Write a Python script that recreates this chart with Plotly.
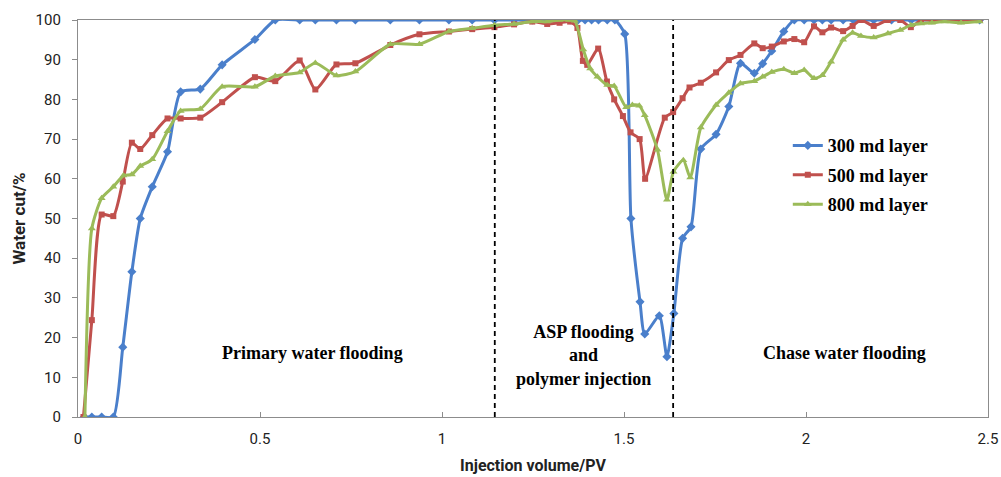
import plotly.graph_objects as go

# Injection volume (PV) and water cut (%) for each permeability layer
x_300 = [0.017, 0.038, 0.065, 0.097, 0.123, 0.148, 0.171, 0.204, 0.246, 0.282, 0.336, 0.396,
         0.486, 0.542, 0.609, 0.652, 0.710, 0.762, 0.858, 0.938, 1.019, 1.083, 1.144, 1.198,
         1.248, 1.289, 1.323, 1.352, 1.374, 1.393, 1.411, 1.430, 1.454, 1.475, 1.502, 1.519,
         1.544, 1.557, 1.597, 1.618, 1.637, 1.661, 1.684, 1.711, 1.753, 1.788, 1.820, 1.858,
         1.881, 1.906, 1.939, 1.968, 1.995, 2.022, 2.045, 2.069, 2.102, 2.130, 2.186, 2.235,
         2.289, 2.346, 2.426, 2.477]
wc_300 = [0, 0, 0, 0, 17.6, 36.6, 50.0, 58.0, 66.8, 81.9, 82.6, 88.7,
          95.1, 100, 100, 100, 100, 100, 100, 100, 100, 100, 100, 100,
          100, 100, 100, 100, 100, 100, 100, 100, 100, 100, 96.5, 50.0,
          29.0, 20.9, 25.5, 15.2, 26.1, 45.0, 47.9, 67.5, 71.2, 78.2, 89.1, 86.6,
          89.0, 92.2, 97.1, 100, 100, 100, 100, 100, 100, 100, 100, 100,
          100, 100, 100, 100]

x_500 = [0.015, 0.038, 0.065, 0.097, 0.123, 0.148, 0.171, 0.204, 0.246, 0.282, 0.336, 0.396,
         0.486, 0.542, 0.609, 0.652, 0.710, 0.762, 0.858, 0.938, 1.019, 1.083, 1.144, 1.198,
         1.248, 1.289, 1.323, 1.352, 1.372, 1.387, 1.399, 1.429, 1.453, 1.473, 1.497, 1.518,
         1.543, 1.558, 1.612, 1.635, 1.661, 1.680, 1.711, 1.753, 1.788, 1.820, 1.858, 1.881,
         1.906, 1.939, 1.968, 1.995, 2.022, 2.045, 2.069, 2.102, 2.128, 2.151, 2.186, 2.225,
         2.259, 2.288, 2.316, 2.346, 2.381, 2.426, 2.477]
wc_500 = [0, 24.4, 51.0, 50.6, 59.3, 69.1, 67.5, 71.0, 75.2, 75.2, 75.4, 79.3,
          85.6, 84.6, 89.8, 82.5, 88.8, 89.1, 93.7, 96.4, 97.1, 97.7, 98.2, 98.9,
          99.6, 99.0, 99.3, 99.6, 98.0, 89.7, 88.7, 92.8, 84.5, 80.0, 75.8, 71.7,
          70.0, 60.0, 75.4, 76.8, 80.3, 83.0, 84.2, 86.8, 89.9, 91.2, 94.1, 92.9,
          93.3, 94.6, 95.2, 94.4, 98.4, 96.9, 98.1, 97.2, 98.5, 100, 98.5, 100,
          100, 98.2, 100, 100, 100, 100, 100]

x_800 = [0.019, 0.038, 0.065, 0.097, 0.125, 0.148, 0.171, 0.204, 0.246, 0.282, 0.336, 0.396,
         0.486, 0.542, 0.609, 0.652, 0.710, 0.762, 0.858, 0.938, 1.019, 1.083, 1.144, 1.198,
         1.248, 1.289, 1.323, 1.349, 1.365, 1.388, 1.407, 1.427, 1.454, 1.473, 1.506, 1.523,
         1.542, 1.557, 1.592, 1.618, 1.636, 1.663, 1.682, 1.711, 1.753, 1.788, 1.820, 1.858,
         1.881, 1.906, 1.939, 1.968, 1.995, 2.022, 2.045, 2.069, 2.102, 2.128, 2.151, 2.186,
         2.225, 2.259, 2.288, 2.316, 2.346, 2.381, 2.426, 2.477]
wc_800 = [0, 47.5, 55.1, 58.0, 60.8, 61.1, 63.2, 64.9, 72.0, 77.1, 77.6, 83.2,
          83.2, 85.9, 86.8, 89.2, 86.0, 87.0, 93.9, 93.9, 97.1, 97.9, 98.7, 99.0,
          99.6, 99.6, 100, 100, 99.8, 92.6, 87.8, 85.7, 83.6, 83.4, 78.0, 78.6,
          78.4, 76.0, 67.3, 54.7, 61.8, 64.7, 60.3, 72.9, 78.6, 81.7, 84.0, 84.6,
          85.7, 86.9, 87.6, 86.6, 87.4, 85.3, 86.1, 89.5, 95.0, 96.8, 96.0, 95.6,
          96.6, 97.5, 98.7, 99.1, 99.3, 99.6, 99.3, 99.6]

# Stage boundaries (PV) and stage labels
stage_bounds = [1.145, 1.635]
x_ticks = [0, 0.5, 1, 1.5, 2, 2.5]
x_tick_text = ["0", "0.5", "1", "1.5", "2", "2.5"]
y_ticks = list(range(0, 101, 10))

series = [
    ("300 md layer", x_300, wc_300, "#4A7FCB", "diamond", 7),
    ("500 md layer", x_500, wc_500, "#C0504D", "square", 6),
    ("800 md layer", x_800, wc_800, "#9BBB59", "triangle-up", 7),
]

fig = go.Figure()
for name, xs, ys, color, symbol, msize in series:
    fig.add_trace(go.Scatter(
        x=xs, y=ys, name="<b>" + name + "</b>", legendgroup=name, mode="lines+markers",
        line=dict(color=color, width=3, shape="spline", smoothing=0.6),
        marker=dict(symbol=symbol, size=msize, color=color),
    ))

for xb in stage_bounds:
    fig.add_shape(type="line", xref="x", yref="y", x0=xb, x1=xb, y0=0, y1=100,
                  line=dict(color="black", width=1.8, dash="5px,4px"), layer="above")

serif = "Liberation Serif"
label_font = dict(family=serif, size=18, color="black")
fig.add_annotation(x=0.645, y=16.0, text="<b>Primary water flooding</b>", showarrow=False,
                   font=label_font)
fig.add_annotation(x=1.39, y=15.5,
                   text="<b>ASP flooding</b><br><b>and</b><br><b>polymer injection</b>",
                   showarrow=False, align="center", font=label_font)
fig.add_annotation(x=2.105, y=16.0, text="<b>Chase water flooding</b>", showarrow=False,
                   font=label_font)

axis_color = "#8C8C8C"
fig.update_xaxes(range=[0, 2.5], tickvals=x_ticks, ticktext=x_tick_text, automargin=False,
                 showgrid=False, zeroline=False, showline=True, linecolor=axis_color,
                 linewidth=1.3, mirror=True, ticks="inside", ticklen=5, tickcolor=axis_color,
                 ticklabelstandoff=8,
                 tickfont=dict(family="Roboto", size=15, color="#222"),
                 title=dict(text="<b>Injection volume/PV</b>", standoff=12,
                            font=dict(family="Roboto", size=16, color="#222")))
fig.update_yaxes(range=[0, 100], tickvals=y_ticks, automargin=False,
                 showgrid=False, zeroline=False, showline=True, linecolor=axis_color,
                 linewidth=1.3, mirror=True, ticks="outside", ticklen=5, tickcolor=axis_color,
                 ticklabelstandoff=8,
                 tickfont=dict(family="Roboto", size=15, color="#222"),
                 title=dict(text="<b>Water cut/%</b>", standoff=5,
                            font=dict(family="Roboto", size=17, color="#222")))

fig.update_layout(
    width=1001, height=477,
    margin=dict(l=78, r=13, t=20, b=60),
    paper_bgcolor="white", plot_bgcolor="white",
    showlegend=True,
    legend=dict(x=0.78, y=0.73, xanchor="left", yanchor="top",
                bgcolor="rgba(0,0,0,0)", tracegroupgap=3, itemwidth=30,
                font=dict(family=serif, size=18, color="black")),
)

fig.write_html("out.html")
